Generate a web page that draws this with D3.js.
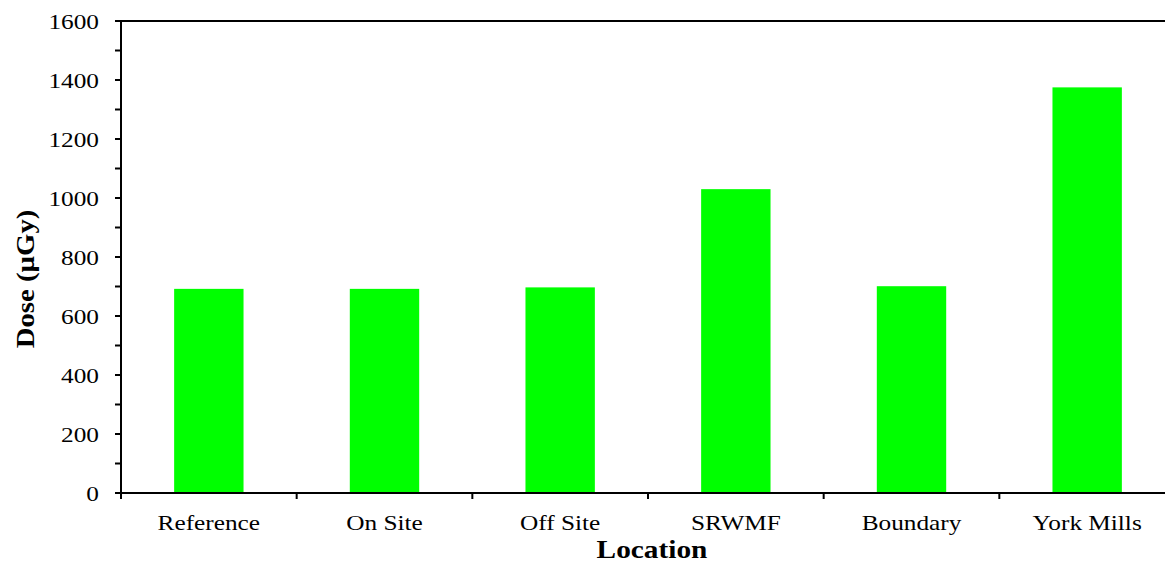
<!DOCTYPE html>
<html>
<head>
<meta charset="utf-8">
<script src="https://cdn.jsdelivr.net/npm/d3@7"></script>
<style>
  html, body { margin: 0; padding: 0; background: #fff; }
  svg { display: block; }
  text { font-family: "Liberation Serif", "Times New Roman", serif; fill: #000; }
</style>
</head>
<body>
<svg id="chart" width="1165" height="565"></svg>
<script>
const categories = ["Reference", "On Site", "Off Site", "SRWMF", "Boundary", "York Mills"];
const doseValues = [692, 692, 697, 1030, 701, 1375];
const yMajorTicks = [0, 200, 400, 600, 800, 1000, 1200, 1400, 1600];
const yMinorTicks = [100, 300, 500, 700, 900, 1100, 1300, 1500];
const yTitle = "Dose (µGy)";
const xTitle = "Location";

(function () {
const svg = d3.select("#chart");
const pLeft = 121, pTop = 21, pBottom = 493, pRight = 1175;
const stretch = 1.15;

const x = d3.scaleBand().domain(categories).range([pLeft, pRight]).paddingInner(0.605).paddingOuter(0.3025);
const xb = d3.scaleBand().domain(categories).range([pLeft, pRight]);
const y = d3.scaleLinear().domain([0, 1600]).range([pBottom, pTop]);

// bars
svg.append("g").selectAll("rect").data(categories).join("rect")
  .attr("x", d => x(d))
  .attr("width", x.bandwidth())
  .attr("y", (d, i) => y(doseValues[i]))
  .attr("height", (d, i) => y(0) - y(doseValues[i]))
  .attr("fill", "#00ff00");

// frame top & axes lines
const frame = svg.append("g").attr("stroke", "#000").attr("stroke-width", 2).attr("fill", "none");
frame.append("line").attr("x1", pLeft).attr("x2", pRight).attr("y1", pTop).attr("y2", pTop);
frame.append("line").attr("x1", pLeft).attr("x2", pLeft).attr("y1", pTop).attr("y2", pBottom);
frame.append("line").attr("x1", pLeft - 6).attr("x2", pRight).attr("y1", pBottom).attr("y2", pBottom);

// y ticks
const yTicks = yMajorTicks.concat(yMinorTicks);
frame.selectAll("line.yt").data(yTicks).join("line").attr("class", "yt")
  .attr("x1", pLeft - 6).attr("x2", pLeft).attr("y1", d => y(d)).attr("y2", d => y(d));

// x ticks at category boundaries
const bounds = categories.map(c => xb(c));
frame.selectAll("line.xt").data(bounds).join("line").attr("class", "xt")
  .attr("x1", d => d).attr("x2", d => d).attr("y1", pBottom).attr("y2", pBottom + 6);

// y labels
svg.append("g").selectAll("text").data(yMajorTicks).join("text")
  .attr("transform", d => `translate(${pLeft - 22},${y(d)}) scale(${stretch},1)`)
  .attr("text-anchor", "end").attr("dy", "0.35em")
  .attr("font-size", 22)
  .text(d => d);

// x labels
svg.append("g").selectAll("text").data(categories).join("text")
  .attr("transform", d => `translate(${x(d) + x.bandwidth() / 2},${530}) scale(${stretch},1)`)
  .attr("text-anchor", "middle")
  .attr("font-size", 22)
  .text(d => d);

// axis titles
svg.append("text")
  .attr("transform", `translate(652,558) scale(${stretch},1)`)
  .attr("text-anchor", "middle").attr("font-weight", "bold").attr("font-size", 25.5)
  .text(xTitle);

svg.append("text")
  .attr("transform", `translate(34,279) rotate(-90) scale(${stretch},1)`)
  .attr("text-anchor", "middle").attr("font-weight", "bold").attr("font-size", 25)
  .text(yTitle);
})();
</script>
</body>
</html>
